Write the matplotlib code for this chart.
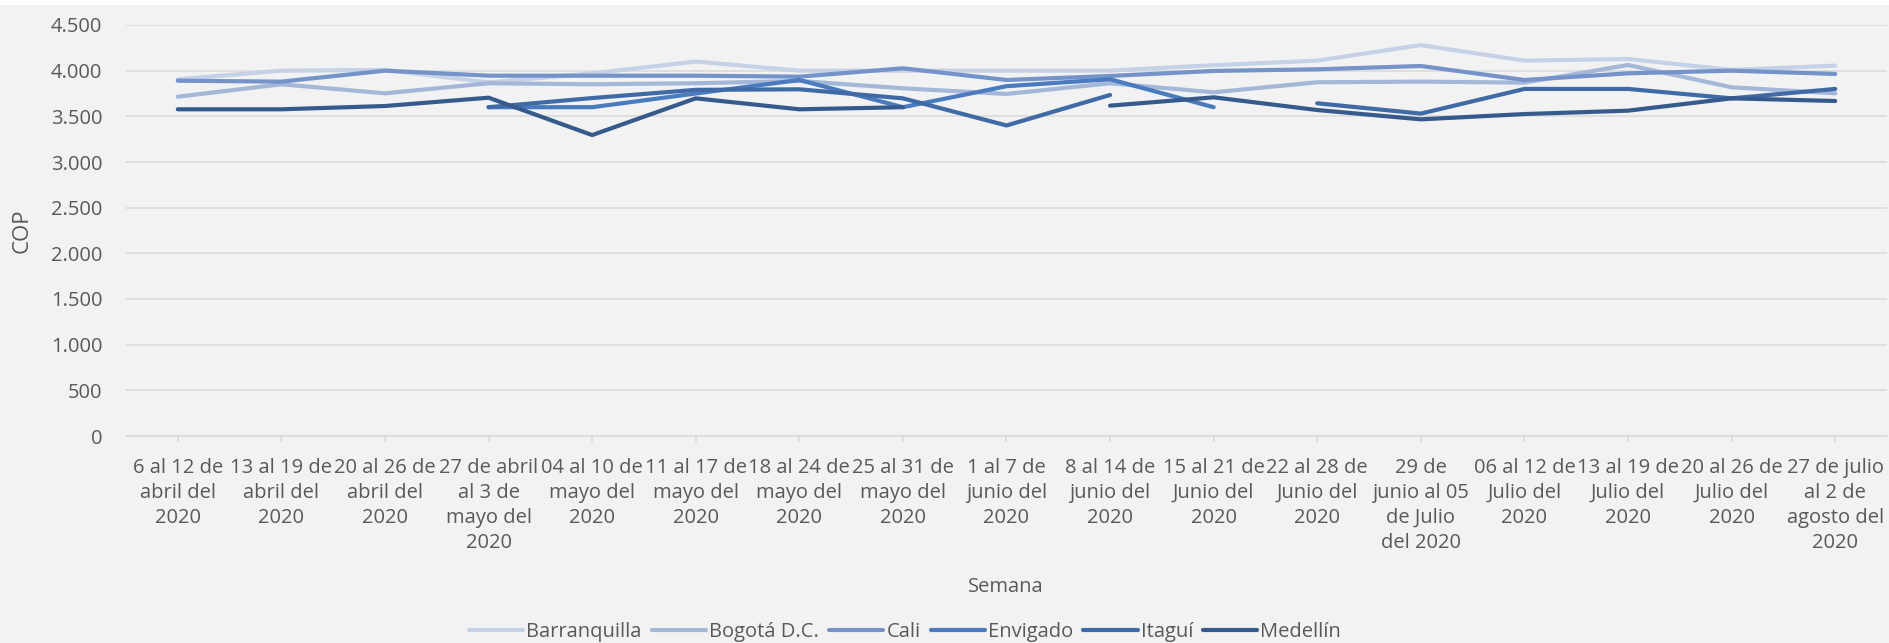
import matplotlib
matplotlib.use("Agg")
import matplotlib.pyplot as plt
from matplotlib.patches import Rectangle
import numpy as np

nan = np.nan

SEMANAS = [
    "6 al 12 de\nabril del\n2020",
    "13 al 19 de\nabril del\n2020",
    "20 al 26 de\nabril del\n2020",
    "27 de abril\nal 3 de\nmayo del\n2020",
    "04 al 10 de\nmayo del\n2020",
    "11 al 17 de\nmayo del\n2020",
    "18 al 24 de\nmayo del\n2020",
    "25 al 31 de\nmayo del\n2020",
    "1 al 7 de\njunio del\n2020",
    "8 al 14 de\njunio del\n2020",
    "15 al 21 de\nJunio del\n2020",
    "22 al 28 de\nJunio del\n2020",
    "29 de\njunio al 05\nde Julio\ndel 2020",
    "06 al 12 de\nJulio del\n2020",
    "13 al 19 de\nJulio del\n2020",
    "20 al 26 de\nJulio del\n2020",
    "27 de julio\nal 2 de\nagosto del\n2020",
]

BARRANQUILLA = [3905, 4000, 4008, 3872, 3970, 4100, 4000, 4000, 4000, 4000,
                4060, 4110, 4280, 4110, 4128, 4008, 4055]
BOGOTA = [3715, 3851, 3752, 3862, 3851, 3862, 3887, 3807, 3745, 3862,
          3763, 3873, 3880, 3869, 4062, 3818, 3752]
CALI = [3890, 3880, 4000, 3945, 3945, 3945, 3934, 4026, 3898, 3942,
        3997, 4015, 4051, 3898, 3971, 4000, 3964]
ENVIGADO = [nan, nan, nan, 3600, 3600, 3750, 3898, 3600, 3830, 3906,
            3600, nan, nan, nan, nan, nan, nan]
ITAGUI = [nan, nan, nan, 3600, 3700, 3790, 3796, 3697, 3400, 3734,
          nan, 3643, 3530, 3800, 3800, 3697, 3800]
MEDELLIN = [3577, 3577, 3613, 3704, 3295, 3697, 3577, 3600, nan, 3617,
            3708, 3569, 3467, 3525, 3562, 3697, 3668]

SERIES = [
    ("Barranquilla", BARRANQUILLA, "#c5d1e6"),
    ("Bogotá D.C.", BOGOTA, "#a4b7d9"),
    ("Cali", CALI, "#7393c9"),
    ("Envigado", ENVIGADO, "#4a7bbf"),
    ("Itaguí", ITAGUI, "#3f6aa6"),
    ("Medellín", MEDELLIN, "#375a8c"),
]

TEXT = "#595959"
GRID = "#d9d9d9"
BG = "#f2f2f2"

plt.rcParams["font.family"] = ["Open Sans", "DejaVu Sans"]

W, H = 1890, 643
fig = plt.figure(figsize=(W / 100, H / 100), dpi=100, facecolor=BG)
fig.patches.append(Rectangle((0, 1 - 5 / H), 1, 5 / H, transform=fig.transFigure,
                             facecolor="white", edgecolor="none", zorder=0))

ax = fig.add_axes([126 / W, 1 - 436 / H, (1887 - 126) / W, (436 - 25) / H])
ax.set_facecolor(BG)

x = np.arange(len(SEMANAS))
for name, vals, color in SERIES:
    ax.plot(x, vals, color=color, linewidth=3.0, label=name,
            solid_capstyle="round", solid_joinstyle="round")

ax.set_xlim(-0.5, len(SEMANAS) - 0.5)
ax.set_ylim(0, 4500)
ax.set_yticks(np.arange(0, 4501, 500))
ax.set_yticklabels([f"{v:,}".replace(",", ".") for v in range(0, 4501, 500)])
ax.set_xticks(x)
ax.set_xticklabels(SEMANAS, linespacing=1.33)

ax.grid(axis="y", color=GRID, linewidth=1.1)
ax.set_axisbelow(True)
for side in ["top", "right", "left"]:
    ax.spines[side].set_visible(False)
ax.spines["bottom"].set_color(GRID)
ax.spines["bottom"].set_linewidth(1.1)

ax.tick_params(axis="y", length=0, pad=17, labelsize=14.5, labelcolor=TEXT)
ax.tick_params(axis="x", length=4, width=1.1, color=GRID, pad=12,
               labelsize=14.5, labelcolor=TEXT)

fig.text(1006 / W, 1 - 587 / H, "Semana", ha="center", va="center",
         fontsize=14.5, color=TEXT)
fig.text(22 / W, 1 - 231 / H, "COP", ha="center", va="center", rotation=90,
         fontsize=16, color=TEXT)

handles, labels = ax.get_legend_handles_labels()
leg = fig.legend(handles, labels, loc="center", ncol=6,
                 bbox_to_anchor=(905 / W, 1 - 632 / H), frameon=False,
                 fontsize=14.5, handlelength=2.7, handletextpad=0.15,
                 columnspacing=0.5, borderpad=0)
for t in leg.get_texts():
    t.set_color(TEXT)

fig.savefig("out.png", dpi=100, facecolor=BG)
